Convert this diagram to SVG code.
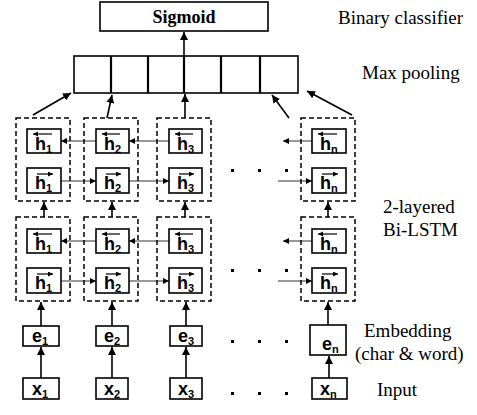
<svg xmlns="http://www.w3.org/2000/svg" width="477" height="415" viewBox="0 0 477 415">
<style>
.box{fill:#fff;stroke:#000;stroke-width:1.6}
.dash{fill:none;stroke:#000;stroke-width:1.5;stroke-dasharray:5,3}
.arr{stroke:#000;stroke-width:1.6;fill:none;marker-end:url(#ah)}
.thin{stroke:#333;stroke-width:1;fill:none;marker-end:url(#ahs)}
.bar{stroke:#000;stroke-width:1.2;fill:none}
.hl{font-family:"Liberation Sans",Arial,sans-serif;font-weight:bold;font-size:18px}
.sub{font-size:11px}
.lab{font-family:"Liberation Serif","Times New Roman",serif;font-size:19px}
.dot{fill:#000}
</style>
<defs>
<marker id="ah" markerUnits="userSpaceOnUse" markerWidth="9" markerHeight="8" refX="8" refY="4" orient="auto"><path d="M0,0 L8,4 L0,8 z" fill="#000"/></marker>
<marker id="ahs" markerUnits="userSpaceOnUse" markerWidth="7" markerHeight="6" refX="6" refY="3" orient="auto"><path d="M0,0 L6,3 L0,6 z" fill="#000"/></marker>
<marker id="hb" markerUnits="userSpaceOnUse" markerWidth="6" markerHeight="6" refX="5" refY="2.5" orient="auto"><path d="M0,0 L5,2.5 L0,5 z" fill="#000"/></marker>
</defs>

<g id="connectors">
<line class="arr" x1="184" y1="56" x2="184" y2="32"/>
<line class="arr" x1="33" y1="115" x2="71" y2="93"/>
<line class="arr" x1="107" y1="118" x2="112" y2="95"/>
<line class="arr" x1="185" y1="118" x2="185" y2="94"/>
<line class="arr" x1="289" y1="118" x2="272" y2="95"/>
<line class="arr" x1="352" y1="115" x2="307" y2="91"/>
<!-- between layers -->
<line class="arr" x1="44" y1="217" x2="44" y2="202"/>
<line class="arr" x1="112" y1="217" x2="112" y2="202"/>
<line class="arr" x1="185" y1="217" x2="185" y2="202"/>
<line class="arr" x1="328" y1="217" x2="328" y2="202"/>
<!-- e to lower -->
<line class="arr" x1="41" y1="326" x2="41" y2="302"/>
<line class="arr" x1="112" y1="326" x2="112" y2="302"/>
<line class="arr" x1="186" y1="326" x2="186" y2="302"/>
<line class="arr" x1="328" y1="325" x2="328" y2="302"/>
<!-- x to e -->
<line class="arr" x1="41" y1="378" x2="41" y2="347"/>
<line class="arr" x1="112" y1="378" x2="112" y2="347"/>
<line class="arr" x1="186" y1="378" x2="186" y2="347"/>
<line class="arr" x1="329" y1="378" x2="329" y2="356"/>
<!-- horizontal upper layer -->
<line class="thin" x1="96" y1="141" x2="61" y2="141"/>
<line class="thin" x1="169" y1="141" x2="129" y2="141"/>
<line class="thin" x1="312" y1="141" x2="283" y2="141"/>
<line class="thin" x1="61" y1="181" x2="96" y2="181"/>
<line class="thin" x1="129" y1="181" x2="169" y2="181"/>
<line class="thin" x1="278" y1="181" x2="312" y2="181"/>
<!-- horizontal lower layer -->
<line class="thin" x1="96" y1="241" x2="61" y2="241"/>
<line class="thin" x1="169" y1="241" x2="129" y2="241"/>
<line class="thin" x1="312" y1="241" x2="283" y2="241"/>
<line class="thin" x1="61" y1="281" x2="96" y2="281"/>
<line class="thin" x1="129" y1="281" x2="169" y2="281"/>
<line class="thin" x1="278" y1="281" x2="312" y2="281"/>
</g>

<g id="sigmoid">
<rect class="box" x="100" y="2" width="168" height="29"/>
<text x="184" y="23" text-anchor="middle" font-family="'Liberation Serif','Times New Roman',serif" font-weight="bold" font-size="18">Sigmoid</text>
</g>

<g id="maxpool">
<rect class="box" x="74" y="56" width="224" height="37"/>
<line x1="111" y1="56" x2="111" y2="93" stroke="#000" stroke-width="2.2"/>
<line x1="148" y1="56" x2="148" y2="93" stroke="#000" stroke-width="2.2"/>
<line x1="184" y1="56" x2="184" y2="93" stroke="#000" stroke-width="2.2"/>
<line x1="221" y1="56" x2="221" y2="93" stroke="#000" stroke-width="2.2"/>
<line x1="260" y1="56" x2="260" y2="93" stroke="#000" stroke-width="2.2"/>
</g>

<g id="col1-upper"><rect class="dash" x="16" y="118" width="54" height="83"/></g>
<g id="col2-upper"><rect class="dash" x="84" y="118" width="54" height="83"/></g>
<g id="col3-upper"><rect class="dash" x="157" y="118" width="54" height="83"/></g>
<g id="coln-upper"><rect class="dash" x="301" y="118" width="54" height="83"/></g>
<g id="col1-lower"><rect class="dash" x="16" y="217" width="54" height="84"/></g>
<g id="col2-lower"><rect class="dash" x="84" y="217" width="54" height="84"/></g>
<g id="col3-lower"><rect class="dash" x="157" y="217" width="54" height="84"/></g>
<g id="coln-lower"><rect class="dash" x="301" y="217" width="54" height="84"/></g>

<!-- upper layer, backward -->
<g id="h1b-u"><rect class="box" x="27" y="129" width="34" height="24"/><line class="bar" x1="52" y1="134" x2="33" y2="134" marker-end="url(#hb)"/><text class="hl" x="35" y="150">h<tspan class="sub" dy="3">1</tspan></text></g>
<g id="h2b-u"><rect class="box" x="96" y="129" width="33" height="24"/><line class="bar" x1="120" y1="134" x2="102" y2="134" marker-end="url(#hb)"/><text class="hl" x="104" y="150">h<tspan class="sub" dy="3">2</tspan></text></g>
<g id="h3b-u"><rect class="box" x="169" y="129" width="33" height="24"/><line class="bar" x1="193" y1="134" x2="175" y2="134" marker-end="url(#hb)"/><text class="hl" x="177" y="150">h<tspan class="sub" dy="3">3</tspan></text></g>
<g id="hnb-u"><rect class="box" x="312" y="129" width="34" height="24"/><line class="bar" x1="337" y1="134" x2="318" y2="134" marker-end="url(#hb)"/><text class="hl" x="320" y="150">h<tspan class="sub" dy="3">n</tspan></text></g>
<!-- upper layer, forward -->
<g id="h1f-u"><rect class="box" x="27" y="168" width="34" height="25"/><line class="bar" x1="37" y1="174" x2="53" y2="174" marker-end="url(#hb)"/><text class="hl" x="35" y="189">h<tspan class="sub" dy="3">1</tspan></text></g>
<g id="h2f-u"><rect class="box" x="96" y="168" width="33" height="25"/><line class="bar" x1="106" y1="174" x2="121" y2="174" marker-end="url(#hb)"/><text class="hl" x="104" y="189">h<tspan class="sub" dy="3">2</tspan></text></g>
<g id="h3f-u"><rect class="box" x="169" y="168" width="33" height="25"/><line class="bar" x1="179" y1="174" x2="194" y2="174" marker-end="url(#hb)"/><text class="hl" x="177" y="189">h<tspan class="sub" dy="3">3</tspan></text></g>
<g id="hnf-u"><rect class="box" x="312" y="168" width="34" height="25"/><line class="bar" x1="322" y1="174" x2="338" y2="174" marker-end="url(#hb)"/><text class="hl" x="320" y="189">h<tspan class="sub" dy="3">n</tspan></text></g>
<!-- lower layer, backward -->
<g id="h1b-l"><rect class="box" x="27" y="229" width="34" height="24"/><line class="bar" x1="52" y1="234" x2="33" y2="234" marker-end="url(#hb)"/><text class="hl" x="35" y="250">h<tspan class="sub" dy="3">1</tspan></text></g>
<g id="h2b-l"><rect class="box" x="96" y="229" width="33" height="24"/><line class="bar" x1="120" y1="234" x2="102" y2="234" marker-end="url(#hb)"/><text class="hl" x="104" y="250">h<tspan class="sub" dy="3">2</tspan></text></g>
<g id="h3b-l"><rect class="box" x="169" y="229" width="33" height="24"/><line class="bar" x1="193" y1="234" x2="175" y2="234" marker-end="url(#hb)"/><text class="hl" x="177" y="250">h<tspan class="sub" dy="3">3</tspan></text></g>
<g id="hnb-l"><rect class="box" x="312" y="229" width="34" height="24"/><line class="bar" x1="337" y1="234" x2="318" y2="234" marker-end="url(#hb)"/><text class="hl" x="320" y="250">h<tspan class="sub" dy="3">n</tspan></text></g>
<!-- lower layer, forward -->
<g id="h1f-l"><rect class="box" x="27" y="268" width="34" height="25"/><line class="bar" x1="37" y1="274" x2="53" y2="274" marker-end="url(#hb)"/><text class="hl" x="35" y="289">h<tspan class="sub" dy="3">1</tspan></text></g>
<g id="h2f-l"><rect class="box" x="96" y="268" width="33" height="25"/><line class="bar" x1="106" y1="274" x2="121" y2="274" marker-end="url(#hb)"/><text class="hl" x="104" y="289">h<tspan class="sub" dy="3">2</tspan></text></g>
<g id="h3f-l"><rect class="box" x="169" y="268" width="33" height="25"/><line class="bar" x1="179" y1="274" x2="194" y2="274" marker-end="url(#hb)"/><text class="hl" x="177" y="289">h<tspan class="sub" dy="3">3</tspan></text></g>
<g id="hnf-l"><rect class="box" x="312" y="268" width="34" height="25"/><line class="bar" x1="322" y1="274" x2="338" y2="274" marker-end="url(#hb)"/><text class="hl" x="320" y="289">h<tspan class="sub" dy="3">n</tspan></text></g>

<!-- embeddings -->
<g id="e1"><rect class="box" x="23" y="326" width="36" height="20"/><text class="hl" x="32" y="342">e<tspan class="sub" dy="3">1</tspan></text></g>
<g id="e2"><rect class="box" x="96" y="326" width="32" height="20"/><text class="hl" x="104" y="342">e<tspan class="sub" dy="3">2</tspan></text></g>
<g id="e3"><rect class="box" x="170" y="326" width="32" height="20"/><text class="hl" x="178" y="342">e<tspan class="sub" dy="3">3</tspan></text></g>
<g id="en"><rect class="box" x="310" y="325" width="36" height="30"/><text class="hl" x="322" y="350">e<tspan class="sub" dy="3">n</tspan></text></g>

<!-- inputs -->
<g id="x1"><rect class="box" x="23" y="378" width="36" height="21"/><text class="hl" x="32" y="395">x<tspan class="sub" dy="3">1</tspan></text></g>
<g id="x2"><rect class="box" x="96" y="378" width="32" height="21"/><text class="hl" x="104" y="395">x<tspan class="sub" dy="3">2</tspan></text></g>
<g id="x3"><rect class="box" x="170" y="378" width="32" height="21"/><text class="hl" x="178" y="395">x<tspan class="sub" dy="3">3</tspan></text></g>
<g id="xn"><rect class="box" x="312" y="378" width="35" height="21"/><text class="hl" x="320" y="395">x<tspan class="sub" dy="3">n</tspan></text></g>

<g id="ellipses">
<rect class="dot" x="231" y="169" width="3" height="3"/><rect class="dot" x="258" y="169" width="3" height="3"/><rect class="dot" x="285" y="169" width="3" height="3"/>
<rect class="dot" x="231" y="269" width="3" height="3"/><rect class="dot" x="258" y="269" width="3" height="3"/><rect class="dot" x="285" y="269" width="3" height="3"/>
<rect class="dot" x="231" y="340" width="3" height="3"/><rect class="dot" x="258" y="340" width="3" height="3"/><rect class="dot" x="285" y="340" width="3" height="3"/>
<rect class="dot" x="231" y="392" width="3" height="3"/><rect class="dot" x="258" y="392" width="3" height="3"/><rect class="dot" x="285" y="392" width="3" height="3"/>
</g>

<g id="labels">
<text class="lab" x="338" y="24">Binary classifier</text>
<text class="lab" x="362" y="79">Max pooling</text>
<text class="lab" x="383" y="213">2-layered</text>
<text class="lab" x="383" y="236">Bi-LSTM</text>
<text class="lab" x="364" y="337">Embedding</text>
<text class="lab" x="355" y="360">(char &amp; word)</text>
<text class="lab" x="377" y="396">Input</text>
</g>
</svg>
